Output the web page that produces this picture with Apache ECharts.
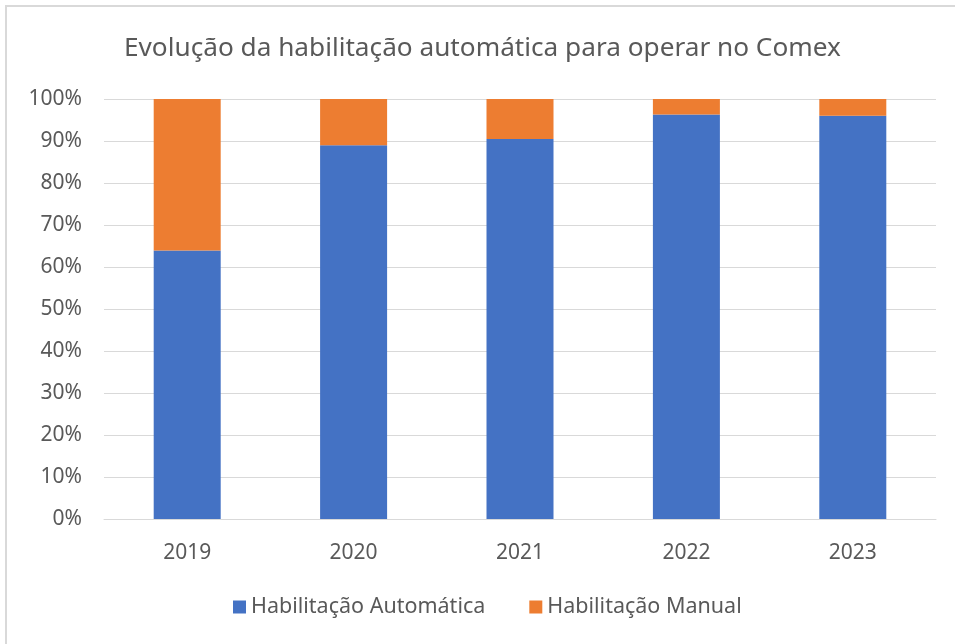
<!DOCTYPE html>
<html>
<head>
<meta charset="utf-8">
<style>
  html, body { margin: 0; padding: 0; background: #fff; }
  #chart {
    position: absolute; left: 0; top: 0;
    width: 955px; height: 644px;
  }
  #frame {
    position: absolute; left: 5px; top: 5px; right: 0; bottom: 0;
    border-left: 2px solid #d9d9d9;
    border-top: 2px solid #d9d9d9;
    pointer-events: none;
  }
</style>
</head>
<body>
<div id="chart"></div>
<div id="frame"></div>
<script src="https://cdn.jsdelivr.net/npm/echarts@6/dist/echarts.min.js"></script>
<script>
const years = ['2019', '2020', '2021', '2022', '2023']
// percentuais
const automatica = [63.9, 89.0, 90.5, 96.3, 96.0]
const manual = [36.1, 11.0, 9.5, 3.7, 4.0]

const chart = echarts.init(document.getElementById('chart'))
const font = 'Noto Sans'

chart.setOption({
  animation: false,
  backgroundColor: '#fff',
  title: {
    text: 'Evolução da habilitação automática para operar no Comex',
    left: 119,
    top: 31,
    textStyle: {
      fontFamily: font,
      fontSize: 26.2,
      fontWeight: 'normal',
      color: '#595959'
    }
  },
  grid: {
    left: 104,
    right: 19,
    top: 99,
    bottom: 125
  },
  legend: {
    bottom: 21,
    left: 228,
    itemWidth: 13,
    itemHeight: 13,
    itemGap: 44,
    icon: 'rect',
    textStyle: {
      fontFamily: font,
      fontSize: 21.5,
      color: '#595959'
    },
    data: ['Habilitação Automática', 'Habilitação Manual']
  },
  xAxis: {
    type: 'category',
    data: years,
    axisLine: { lineStyle: { color: '#d9d9d9', width: 1 } },
    axisTick: { show: false },
    axisLabel: {
      margin: 24,
      fontFamily: font,
      fontSize: 21,
      color: '#595959'
    }
  },
  yAxis: {
    type: 'value',
    min: 0,
    max: 100,
    interval: 10,
    axisLine: { show: false },
    axisTick: { show: false },
    splitLine: { lineStyle: { color: '#d9d9d9', width: 1 } },
    axisLabel: {
      formatter: '{value}%',
      margin: 22,
      fontFamily: font,
      fontSize: 21,
      color: '#595959'
    }
  },
  series: [{
    name: 'Habilitação Automática',
    type: 'bar',
    stack: 'total',
    barWidth: 67,
    data: automatica,
    itemStyle: { color: '#4472c4' }
  }, {
    name: 'Habilitação Manual',
    type: 'bar',
    stack: 'total',
    barWidth: 67,
    data: manual,
    itemStyle: { color: '#ed7d31' }
  }]
})
</script>
</body>
</html>
